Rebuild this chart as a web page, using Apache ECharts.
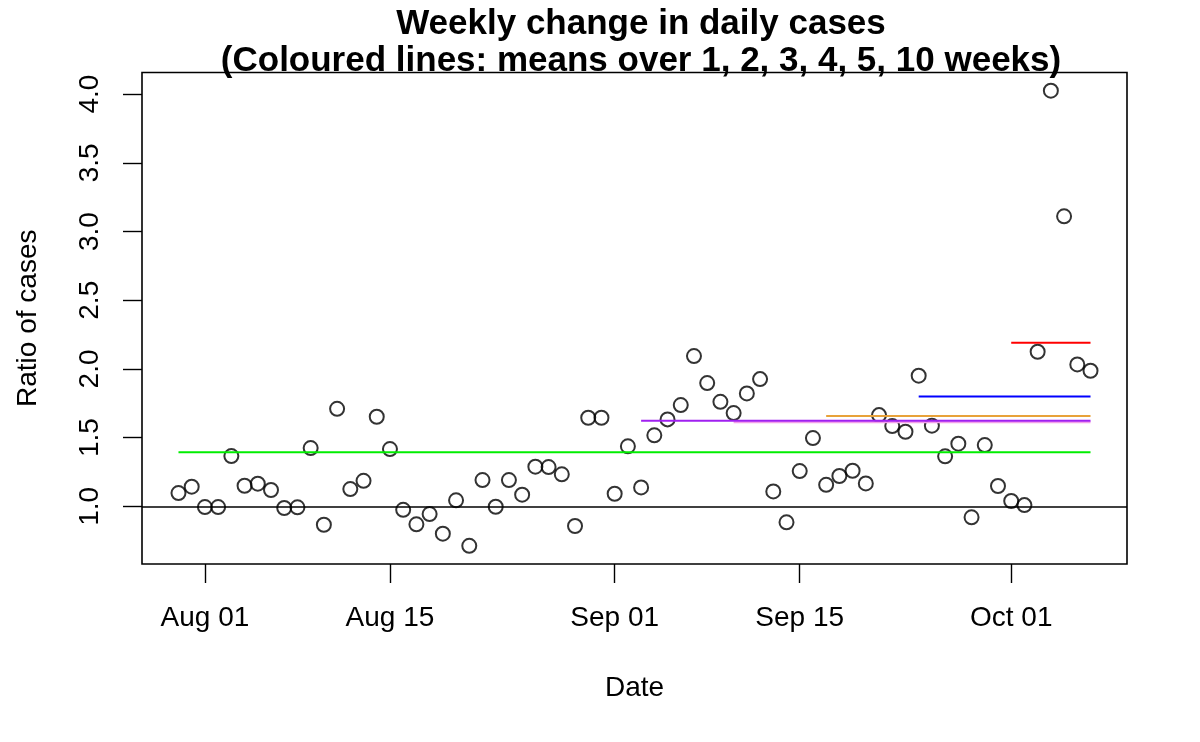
<!DOCTYPE html>
<html>
<head>
<meta charset="utf-8">
<script src="https://cdn.jsdelivr.net/npm/echarts@6/dist/echarts.min.js"></script>
<style>
html,body{margin:0;padding:0;background:#fff;}
#chart{width:1200px;height:742px;}
</style>
</head>
<body>
<div id="chart"></div>
<script>
// ---- data ----
const titleLines = ['Weekly change in daily cases', '(Coloured lines: means over 1, 2, 3, 4, 5, 10 weeks)'];
const startDate = '2020-07-30';
const ratios = [
  1.097, 1.143,
  0.995, 0.995, 1.366, 1.150, 1.165, 1.119, 0.988, 0.993, 1.424, 0.866,
  1.710, 1.126, 1.186, 1.652, 1.417, 0.975, 0.869, 0.944, 0.801, 1.044,
  0.713, 1.191, 0.997, 1.191, 1.085, 1.289, 1.286, 1.233, 0.857, 1.645, 1.645,
  1.092, 1.437, 1.138, 1.517, 1.633, 1.737, 2.094, 1.897, 1.761, 1.679,
  1.822, 1.926, 1.109, 0.884, 1.257, 1.497, 1.157, 1.221, 1.259, 1.167,
  1.664, 1.584, 1.543, 1.951, 1.587, 1.364, 1.456, 0.920, 1.446, 1.148,
  1.039, 1.009, 2.125, 4.025, 3.111, 2.033, 1.987
];
const meanWeeks  = [10, 4, 5, 3, 2, 1];
const meanValues = [1.393, 1.613, 1.623, 1.657, 1.80, 2.19];
const meanColors = ['#00ee00', '#f3a0ea', '#a020f0', '#e8a23a', '#0000ff', '#ff0000'];
const xTickDates  = ['2020-08-01', '2020-08-15', '2020-09-01', '2020-09-15', '2020-10-01'];
const xTickLabels = ['Aug 01', 'Aug 15', 'Sep 01', 'Sep 15', 'Oct 01'];
const yTicks = [1.0, 1.5, 2.0, 2.5, 3.0, 3.5, 4.0];
const refLine = 1.0;

// ---- helpers ----
const DAY = 86400000;
function dayNum(s){ const p = s.split('-').map(Number); return Date.UTC(p[0], p[1]-1, p[2]) / DAY; }
const origin = dayNum('2020-08-01');
const start = dayNum(startDate) - origin;
const pts = ratios.map((v, i) => [start + i, v]);
const lastX = start + ratios.length - 1;
const xTicks = xTickDates.map(d => dayNum(d) - origin);

// R-style 4% axis extension
const xr = lastX - start, xMin = start - 0.04 * xr, xMax = lastX + 0.04 * xr;
const yLo = Math.min(...ratios), yHi = Math.max(...ratios), yr = yHi - yLo;
const yMin = yLo - 0.04 * yr, yMax = yHi + 0.04 * yr;

const FONT = 'Liberation Sans, Arial, Helvetica, sans-serif';

const meanSeries = meanWeeks.map((w, i) => ({
  type: 'line', name: w + ' weeks',
  data: [[lastX - 7 * w + 1, meanValues[i]], [lastX, meanValues[i]]],
  symbol: 'none', silent: true, animation: false,
  lineStyle: { color: meanColors[i], width: 2 }, z: 4
}));

const chart = echarts.init(document.getElementById('chart'), null, { renderer: 'canvas' });
chart.setOption({
  backgroundColor: '#fff',
  animation: false,
  title: {
    text: titleLines.join('\n'),
    left: 636, top: 1, textAlign: 'center',
    textStyle: { fontFamily: FONT, fontWeight: 'bold', fontSize: 35, lineHeight: 37, color: '#000' }
  },
  grid: {
    left: 142, right: 73, top: 72.5, bottom: 178,
    show: true, borderColor: '#000', borderWidth: 1.6, backgroundColor: 'transparent'
  },
  xAxis: {
    type: 'value', min: xMin, max: xMax,
    name: 'Date', nameLocation: 'middle', nameGap: 110,
    nameTextStyle: { fontFamily: FONT, fontSize: 28, color: '#000', verticalAlign: 'top' },
    axisLine: { show: false, onZero: false },
    splitLine: { show: false },
    axisTick: { show: true, length: 19, customValues: xTicks, lineStyle: { color: '#000', width: 1.4 } },
    axisLabel: {
      customValues: xTicks, margin: 40,
      formatter: v => xTickLabels[xTicks.indexOf(v)] || '',
      fontFamily: FONT, fontSize: 28, color: '#000'
    }
  },
  yAxis: {
    type: 'value', min: yMin, max: yMax,
    name: 'Ratio of cases', nameLocation: 'middle', nameGap: 100,
    nameTextStyle: { fontFamily: FONT, fontSize: 28, color: '#000' },
    axisLine: { show: false, onZero: false },
    splitLine: { show: false },
    axisTick: { show: true, length: 19, customValues: yTicks, lineStyle: { color: '#000', width: 1.4 } },
    axisLabel: {
      customValues: yTicks, rotate: 90, margin: 38,
      formatter: v => v.toFixed(1),
      fontFamily: FONT, fontSize: 28, color: '#000'
    }
  },
  series: [
    {
      type: 'scatter', name: 'ratio', data: pts,
      symbol: 'circle', symbolSize: 14,
      itemStyle: { color: 'rgba(0,0,0,0)', borderColor: '#000', borderWidth: 2 },
      z: 3,
      markLine: {
        silent: true, symbol: 'none', label: { show: false },
        lineStyle: { color: '#000', width: 1.7, type: 'solid' },
        data: [{ yAxis: refLine }]
      }
    }
  ].concat(meanSeries)
});
</script>
</body>
</html>
